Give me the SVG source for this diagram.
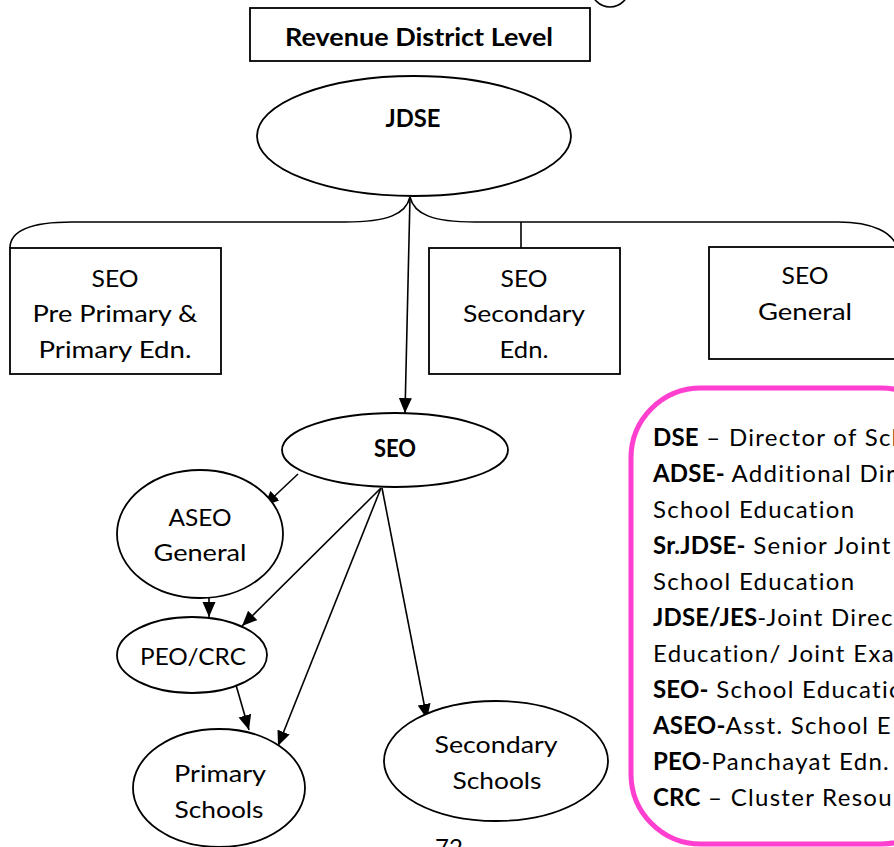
<svg xmlns="http://www.w3.org/2000/svg" width="894" height="847" viewBox="0 0 894 847">
<defs>
<marker id="arr" markerUnits="userSpaceOnUse" markerWidth="16" markerHeight="14" refX="15" refY="6.5" orient="auto">
<path d="M0,0 L15,6.5 L0,13 z" fill="#000"/>
</marker>
<style>
.s{fill:#fff;stroke:#000;stroke-width:1.8}
.t{font-family:Lato,"Open Sans","Liberation Sans",sans-serif;font-size:24px;fill:#000;text-anchor:middle}
.b{font-weight:bold}
.c{fill:none;stroke:#000;stroke-width:1.6}
.l{font-family:Lato,"Open Sans","Liberation Sans",sans-serif;font-size:24px;fill:#000;letter-spacing:1.3px}
.l .b{letter-spacing:0.2px}
</style>
</defs>
<rect width="894" height="847" fill="#fff"/>
<circle cx="610" cy="-12" r="19" fill="none" stroke="#000" stroke-width="1.6"/>

<g id="revenue">
<rect class="s" x="250" y="8" width="340" height="53"/>
<text class="t b" x="419" y="46" textLength="268" lengthAdjust="spacingAndGlyphs">Revenue District Level</text>
</g>

<g id="jdse">
<ellipse class="s" cx="414" cy="136" rx="157" ry="60"/>
<text class="t b" x="413" y="127" textLength="55" lengthAdjust="spacingAndGlyphs">JDSE</text>
</g>

<g id="connectors">
<path class="c" d="M410,197 C406,214 388,222 345,222 L72,222 C32,222 10,230 10,248"/>
<path class="c" d="M410,197 C414,214 432,222 475,222 L838,222 C872,222 894,232 898,250"/>
<line class="c" x1="521" y1="222" x2="521" y2="248"/>
<line class="c" x1="410" y1="197" x2="405" y2="413" marker-end="url(#arr)"/>
<line class="c" x1="298" y1="474" x2="264" y2="506" marker-end="url(#arr)"/>
<line class="c" x1="209" y1="590" x2="209" y2="617" marker-end="url(#arr)"/>
<line class="c" x1="381" y1="488" x2="242" y2="626" marker-end="url(#arr)"/>
<line class="c" x1="381" y1="488" x2="278" y2="746" marker-end="url(#arr)"/>
<line class="c" x1="382" y1="488" x2="427" y2="719" marker-end="url(#arr)"/>
<line class="c" x1="236" y1="685" x2="249" y2="730" marker-end="url(#arr)"/>
</g>

<g id="seo_primary">
<rect class="s" x="10" y="248" width="211" height="126"/>
<text class="t" x="115" y="287" textLength="47" lengthAdjust="spacingAndGlyphs">SEO</text>
<text class="t" x="115" y="322" textLength="165" lengthAdjust="spacingAndGlyphs">Pre Primary &amp;</text>
<text class="t" x="115" y="358" textLength="153" lengthAdjust="spacingAndGlyphs">Primary Edn.</text>
</g>

<g id="seo_secondary">
<rect class="s" x="429" y="248" width="191" height="126"/>
<text class="t" x="524" y="287" textLength="47" lengthAdjust="spacingAndGlyphs">SEO</text>
<text class="t" x="524" y="322" textLength="122" lengthAdjust="spacingAndGlyphs">Secondary</text>
<text class="t" x="524" y="358" textLength="49" lengthAdjust="spacingAndGlyphs">Edn.</text>
</g>

<g id="seo_general">
<rect class="s" x="709" y="247" width="200" height="112"/>
<text class="t" x="805" y="284" textLength="47" lengthAdjust="spacingAndGlyphs">SEO</text>
<text class="t" x="805" y="320" textLength="94" lengthAdjust="spacingAndGlyphs">General</text>
</g>

<g id="seo">
<ellipse class="s" cx="395" cy="450" rx="113" ry="37"/>
<text class="t b" x="395" y="457" textLength="42" lengthAdjust="spacingAndGlyphs">SEO</text>
</g>

<g id="aseo">
<ellipse class="s" cx="200" cy="534" rx="83" ry="64"/>
<text class="t" x="200" y="526" textLength="63" lengthAdjust="spacingAndGlyphs">ASEO</text>
<text class="t" x="200" y="561" textLength="93" lengthAdjust="spacingAndGlyphs">General</text>
</g>

<g id="peo">
<ellipse class="s" cx="192" cy="655" rx="75" ry="38"/>
<text class="t" x="193" y="665" textLength="106" lengthAdjust="spacingAndGlyphs">PEO/CRC</text>
</g>

<g id="primary">
<ellipse class="s" cx="219" cy="788" rx="86" ry="59"/>
<text class="t" x="220" y="782" textLength="92" lengthAdjust="spacingAndGlyphs">Primary</text>
<text class="t" x="219" y="818" textLength="89" lengthAdjust="spacingAndGlyphs">Schools</text>
</g>

<g id="secondary">
<ellipse class="s" cx="496" cy="761" rx="112" ry="60"/>
<text class="t" x="496" y="753" textLength="123" lengthAdjust="spacingAndGlyphs">Secondary</text>
<text class="t" x="497" y="789" textLength="89" lengthAdjust="spacingAndGlyphs">Schools</text>
</g>

<g id="legend">
<rect x="631" y="388" width="320" height="456" rx="70" ry="70" fill="none" stroke="#FF3FCF" stroke-width="5"/>
<text class="l" x="653" y="446"><tspan class="b">DSE</tspan> – Director of Sch</text>
<text class="l" x="653" y="482"><tspan class="b">ADSE-</tspan> Additional Dir</text>
<text class="l" x="653" y="518">School Education</text>
<text class="l" x="653" y="554"><tspan class="b">Sr.JDSE-</tspan> Senior Joint</text>
<text class="l" x="653" y="590">School Education</text>
<text class="l" x="653" y="626"><tspan class="b">JDSE/JES</tspan>-Joint Direc</text>
<text class="l" x="653" y="662">Education/ Joint Exa</text>
<text class="l" x="653" y="698"><tspan class="b">SEO-</tspan> School Educatio</text>
<text class="l" x="653" y="734"><tspan class="b">ASEO-</tspan>Asst. School  E</text>
<text class="l" x="653" y="770"><tspan class="b">PEO</tspan>-Panchayat Edn.</text>
<text class="l" x="653" y="806"><tspan class="b">CRC</tspan> – Cluster Resour</text>
</g>

<text class="t" x="449" y="856">72</text>
</svg>
